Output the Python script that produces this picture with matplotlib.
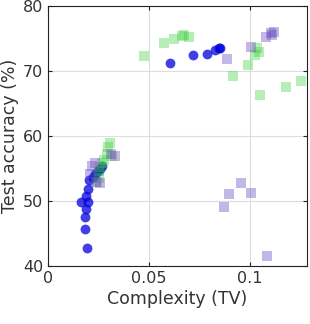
import matplotlib
matplotlib.use('Agg')
import matplotlib.pyplot as plt
import numpy as np

# blue circles
blue_x = [0.0195, 0.0185, 0.0185, 0.019, 0.0165, 0.0197, 0.019, 0.0197, 0.0203, 0.0221,
          0.0235, 0.025, 0.0256, 0.0268, 0.0607, 0.0717, 0.0788, 0.083, 0.0846, 0.0853]
blue_y = [42.7, 45.7, 47.5, 48.7, 49.9, 49.8, 50.7, 51.9, 53.2, 53.7,
          54.2, 54.6, 55.0, 55.4, 71.2, 72.5, 72.6, 73.3, 73.6, 73.6]

# green squares
green_x = [0.0474, 0.0574, 0.0623, 0.0664, 0.0676, 0.0701, 0.092, 0.099, 0.1036, 0.1028,
           0.1045, 0.105, 0.118, 0.1256, 0.0309, 0.0300, 0.0293, 0.0317, 0.0276, 0.0268,
           0.0260, 0.0251, 0.0243, 0.0255]
green_y = [72.3, 74.25, 74.9, 75.4, 75.5, 75.3, 69.2, 70.9, 73.5, 72.5,
           73.0, 66.3, 67.5, 68.45, 59.0, 58.3, 57.3, 57.0, 56.3, 55.9,
           55.3, 53.5, 52.9, 54.6]

# purple squares
purple_x = [0.0886, 0.1007, 0.108, 0.1106, 0.1122, 0.1112, 0.0871, 0.0896, 0.0959, 0.1007,
            0.1086, 0.022, 0.0231, 0.021, 0.0334, 0.0314, 0.0256, 0.0240]
purple_y = [71.8, 73.7, 75.2, 75.8, 76.0, 75.5, 49.1, 51.1, 52.8, 51.3,
            41.6, 55.4, 55.8, 54.2, 57.0, 57.2, 52.8, 53.0]

plt.rcParams['font.family'] = ['DejaVu Sans']
plt.rcParams['font.size'] = 11.5

fig = plt.figure(figsize=(3.1, 3.24), dpi=100)
ax = fig.add_axes([48/310, 1 - 266/324, 259/310, 260/324])

ax.scatter(blue_x, blue_y, marker='o', s=50, color='#0000dd', alpha=0.75, linewidths=0, zorder=3)
ax.scatter(green_x, green_y, marker='s', s=44, color='#33cc33', alpha=0.35, linewidths=0, zorder=4)
ax.scatter(purple_x, purple_y, marker='s', s=44, color='#6a4cc0', alpha=0.4, linewidths=0, zorder=4)

ax.set_xlim(0, 0.1285)
ax.set_ylim(40, 80)
ax.set_xticks([0, 0.05, 0.1])
ax.set_xticklabels(['0', '0.05', '0.1'])
ax.set_yticks([40, 50, 60, 70, 80])
ax.grid(True, color='#dddddd', linewidth=0.8, zorder=0)
ax.tick_params(direction='in', top=True, right=True, length=3, colors='#222222',
               labelcolor='#333333', labelsize=11.5)
for sp in ax.spines.values():
    sp.set_color('#222222')
    sp.set_linewidth(0.8)
ax.set_xlabel('Complexity (TV)', color='#333333', fontsize=12.5, labelpad=3)
ax.set_ylabel('Test accuracy (%)', color='#333333', fontsize=12.5, labelpad=3)

fig.savefig('out.png', dpi=100)
